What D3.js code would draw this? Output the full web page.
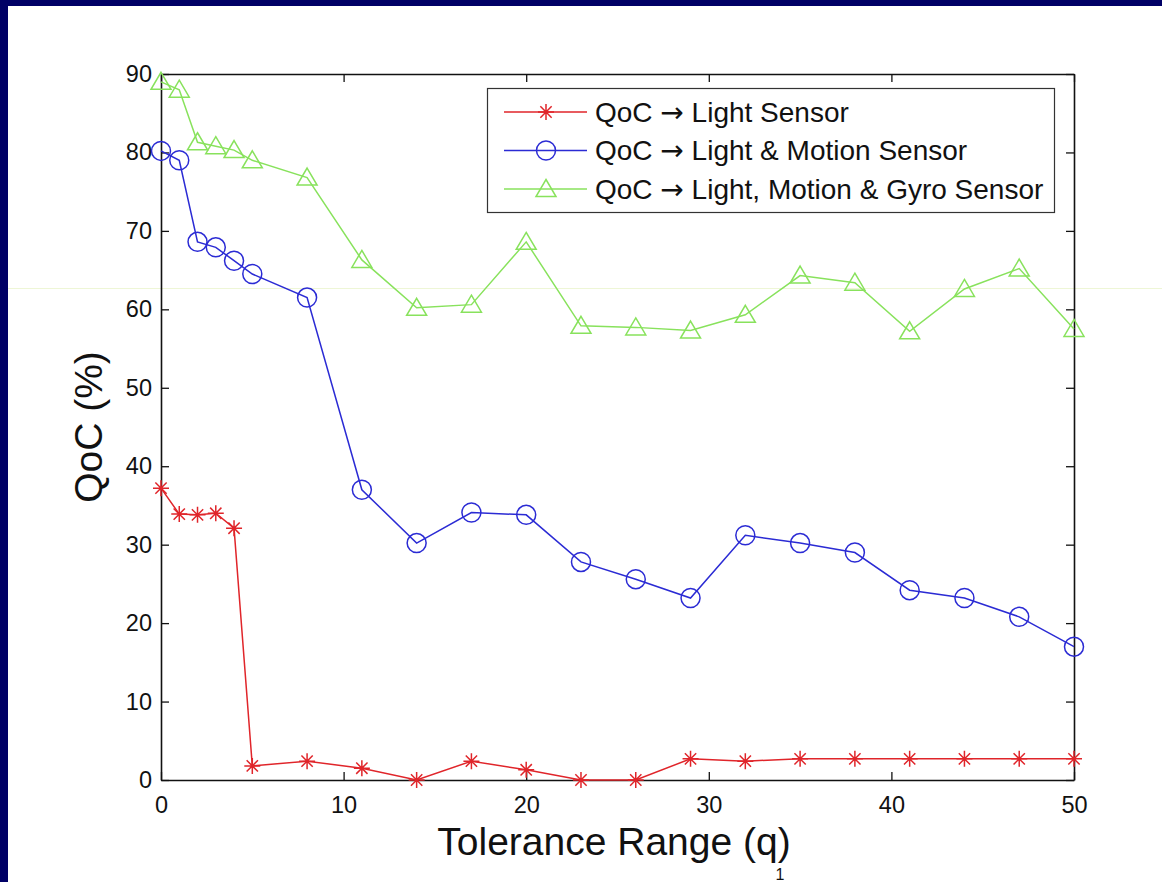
<!DOCTYPE html>
<html>
<head>
<meta charset="utf-8">
<script src="https://cdn.jsdelivr.net/npm/d3@7"></script>
<style>
    body { margin: 0; background: #fff; }
    svg { display: block; font-family: "Liberation Sans", Arial, Helvetica, sans-serif; }
</style>
</head>
<body>
<svg id="mainFrame"></svg>
<script>
// values
const tolerance = [0, 1, 2, 3, 4, 5, 8, 11, 14, 17, 20, 23, 26, 29, 32, 35, 38, 41, 44, 47, 50];
const qocLight = [37.2, 33.9, 33.8, 34.0, 32.1, 1.8, 2.4, 1.5, 0, 2.4, 1.3, 0, 0, 2.7, 2.4, 2.7, 2.7, 2.7, 2.7, 2.7, 2.7];
const qocLightMotion = [80.2, 79.0, 68.6, 67.9, 66.2, 64.5, 61.5, 37.0, 30.2, 34.1, 33.8, 27.8, 25.6, 23.2, 31.2, 30.2, 29.0, 24.2, 23.2, 20.8, 17.0];
const qocLightMotionGyro = [89.0, 88.0, 81.3, 80.8, 80.3, 79.0, 76.8, 66.3, 60.2, 60.6, 68.6, 57.9, 57.7, 57.3, 59.3, 64.3, 63.4, 57.2, 62.6, 65.2, 57.5];
// legend labels are "QoC -> <sensor set>"
const seriesPrefix = 'QoC';
const seriesNames = ['Light Sensor', 'Light & Motion Sensor', 'Light, Motion & Gyro Sensor'];
const xTicks = [0, 10, 20, 30, 40, 50];
const yTicks = [0, 10, 20, 30, 40, 50, 60, 70, 80, 90];

const W = 1162, H = 882;
const svg = d3.select('#mainFrame')
    .attr('width', W)
    .attr('height', H);

// slide frame
svg.append('rect').attr('width', W).attr('height', H).attr('fill', '#fff');
svg.append('rect').attr('width', W).attr('height', 6).attr('fill', '#000066');
svg.append('rect').attr('width', 8).attr('height', H).attr('fill', '#000066');
// faint scan line across the slide
svg.append('line')
    .attr('x1', 8).attr('x2', W).attr('y1', 288.5).attr('y2', 288.5)
    .attr('stroke', '#eef6d6').attr('stroke-width', 1);

const plot = {left: 161, right: 1074, top: 74, bottom: 780};

const x = d3.scaleLinear().domain([0, 50]).range([plot.left, plot.right]);
const y = d3.scaleLinear().domain([0, 90]).range([plot.bottom, plot.top]);

const series = [
    {name: seriesNames[0], values: qocLight, color: '#e0252a', marker: 'star'},
    {name: seriesNames[1], values: qocLightMotion, color: '#2b2bd4', marker: 'circle'},
    {name: seriesNames[2], values: qocLightMotionGyro, color: '#88e25c', marker: 'triangle'}
];

// axes, ticks pointing inward
const tickLen = 8;
const axisStyle = g => {
    g.select('.domain').attr('stroke', '#111').attr('stroke-width', 1.6);
    g.selectAll('.tick line').attr('stroke', '#111').attr('stroke-width', 1.3);
    g.selectAll('.tick text').attr('fill', '#111').attr('font-size', 23.5).attr('font-family', null);
};

svg.append('g')
    .attr('transform', `translate(0,${plot.bottom})`)
    .call(d3.axisBottom(x).tickValues(xTicks).tickSize(-tickLen).tickSizeOuter(0).tickPadding(16))
    .call(axisStyle);
svg.append('g')
    .attr('transform', `translate(0,${plot.top})`)
    .call(d3.axisTop(x).tickValues(xTicks).tickSize(-tickLen).tickSizeOuter(0).tickFormat(''))
    .call(axisStyle);
svg.append('g')
    .attr('transform', `translate(${plot.left},0)`)
    .call(d3.axisLeft(y).tickValues(yTicks).tickSize(-tickLen).tickSizeOuter(0).tickPadding(9))
    .call(axisStyle);
svg.append('g')
    .attr('transform', `translate(${plot.right},0)`)
    .call(d3.axisRight(y).tickValues(yTicks).tickSize(-tickLen).tickSizeOuter(0).tickFormat(''))
    .call(axisStyle);

// axis titles
svg.append('text')
    .attr('x', 614)
    .attr('y', 855)
    .attr('text-anchor', 'middle')
    .attr('font-size', 39)
    .attr('fill', '#111')
    .text('Tolerance Range (q)');

svg.append('text')
    .attr('transform', `translate(102,${(plot.top + plot.bottom) / 2}) rotate(-90)`)
    .attr('text-anchor', 'middle')
    .attr('font-size', 39)
    .attr('fill', '#111')
    .text('QoC (%)');

// slide page number peeking under the title
svg.append('text')
    .attr('x', 780).attr('y', 880)
    .attr('text-anchor', 'middle')
    .attr('font-size', 16)
    .attr('fill', '#111')
    .text('1');

// marker drawing
const drawMarker = (sel, kind, color) => {
    if (kind === 'circle') {
        sel.append('circle').attr('r', 9.5)
            .attr('fill', 'none').attr('stroke', color).attr('stroke-width', 1.5);
    } else if (kind === 'triangle') {
        sel.append('path').attr('d', 'M0,-9.5L10,7.5L-10,7.5Z')
            .attr('fill', 'none').attr('stroke', color).attr('stroke-width', 1.5);
    } else {
        const r = 8, d = r * 0.707;
        sel.append('path')
            .attr('d', `M${-r},0L${r},0M0,${-r}L0,${r}M${-d},${-d}L${d},${d}M${-d},${d}L${d},${-d}`)
            .attr('fill', 'none').attr('stroke', color).attr('stroke-width', 1.5);
    }
};

const line = d3.line()
    .x((d, i) => x(tolerance[i]))
    .y(d => y(d));

const lines = svg.append('g');
series.forEach(s => {
    lines.append('path')
        .attr('d', line(s.values))
        .attr('fill', 'none')
        .attr('stroke', s.color)
        .attr('stroke-width', 1.5);

    lines.selectAll(null)
        .data(s.values)
        .join('g')
        .attr('transform', (d, i) => `translate(${x(tolerance[i])},${y(d)})`)
        .each(function () { drawMarker(d3.select(this), s.marker, s.color); });
});

// legend
const legend = svg.append('g').attr('id', 'legend');
legend.append('rect')
    .attr('x', 487.5).attr('y', 88.5)
    .attr('width', 567).attr('height', 124)
    .attr('fill', '#fff')
    .attr('stroke', '#333')
    .attr('stroke-width', 1.2);

const legendRow = d3.scalePoint().domain(seriesNames).range([112, 189]);

const entry = legend.selectAll('g.entry')
    .data(series)
    .join('g')
    .attr('class', 'entry')
    .attr('transform', d => `translate(0,${legendRow(d.name)})`);

entry.append('line')
    .attr('x1', 504).attr('x2', 587)
    .attr('stroke', d => d.color)
    .attr('stroke-width', 1.5);

entry.append('g')
    .attr('transform', 'translate(546,0)')
    .each(function (d) { drawMarker(d3.select(this), d.marker, d.color); });

const label = entry.append('text')
    .attr('x', 595)
    .attr('dy', '0.35em')
    .attr('font-size', 28)
    .attr('fill', '#111');
label.append('tspan').text(seriesPrefix + ' ');
label.append('tspan')
    .attr('font-family', '"DejaVu Sans", sans-serif')
    .attr('font-size', 28)
    .text('\u2192');
label.append('tspan').text(d => ' ' + d.name);
</script>
</body>
</html>
